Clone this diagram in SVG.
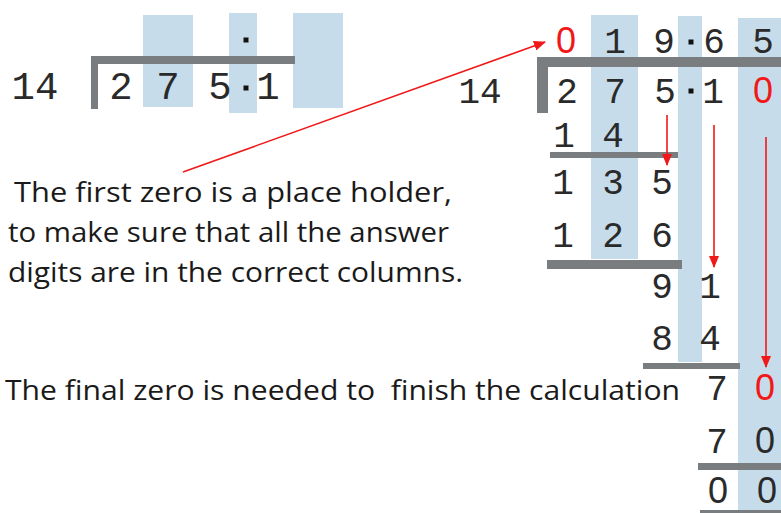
<svg xmlns="http://www.w3.org/2000/svg" width="781" height="513" viewBox="0 0 781 513">
<style>
.col{fill:#c6dcea}
.bar{fill:#797d80}
.d{font-family:"Liberation Mono",monospace;fill:#2a2a2a;text-anchor:middle}
.z{font-family:"Liberation Sans",sans-serif}
.dl{font-size:39px}
.dr{font-size:36px}
.red{fill:#f01818}
.dot{fill:#111}
.note{font-family:"Open Sans","Noto Sans",sans-serif;font-size:27px;fill:#1a1a1a;white-space:pre}
.arr{stroke:#f01818;stroke-width:1.6;fill:none}
</style>
<defs>
<marker id="ah" viewBox="0 0 12 10" refX="11" refY="5" markerWidth="12" markerHeight="10" markerUnits="userSpaceOnUse" orient="auto">
<path d="M0,0 L12,5 L0,10 Z" fill="#f01818"/>
</marker>
</defs>
<g id="left-division">
<rect class="col" x="143" y="15" width="50" height="92"/>
<rect class="col" x="229" y="13" width="28" height="100"/>
<rect class="col" x="293" y="13" width="50" height="95"/>
<rect class="bar" x="91" y="56" width="204" height="8"/>
<rect class="bar" x="91" y="56" width="7" height="53"/>
<rect class="dot" x="243.5" y="37.5" width="5" height="5"/>
<rect class="dot" x="243.5" y="85.5" width="5" height="5"/>
<text class="d dl" x="35" y="99">14</text>
<text class="d dl" x="121" y="99">2</text>
<text class="d dl" x="168" y="99">7</text>
<text class="d dl" x="220" y="99">5</text>
<text class="d dl" x="268" y="99">1</text>
</g>
<g id="right-division">
<rect class="col" x="591" y="15" width="47" height="244"/>
<rect class="col" x="678" y="16" width="24" height="346"/>
<rect class="col" x="738" y="18" width="43" height="495"/>
<rect class="bar" x="537" y="57" width="244" height="10"/>
<rect class="bar" x="537" y="57" width="11" height="56"/>
<rect class="bar" x="550" y="152" width="128" height="6"/>
<rect class="bar" x="547" y="260" width="135" height="9"/>
<rect class="bar" x="643" y="363" width="97" height="6"/>
<rect class="bar" x="698" y="463" width="83" height="7"/>
<rect class="bar" x="700" y="510" width="81" height="3"/>
<rect class="dot" x="688.5" y="39.5" width="5" height="5"/>
<rect class="dot" x="688.5" y="88.5" width="5" height="5"/>
<text class="d dr z red" x="566" y="53">0</text>
<text class="d dr" x="615" y="53">1</text>
<text class="d dr" x="664" y="53">9</text>
<text class="d dr" x="714" y="53">6</text>
<text class="d dr" x="763" y="53">5</text>
<text class="d dr" x="480" y="103">14</text>
<text class="d dr" x="567" y="103">2</text>
<text class="d dr" x="615" y="103">7</text>
<text class="d dr" x="665" y="103">5</text>
<text class="d dr" x="713" y="103">1</text>
<text class="d dr z red" x="763" y="103">0</text>
<text class="d dr" x="564" y="147">1</text>
<text class="d dr" x="613" y="147">4</text>
<text class="d dr" x="563" y="194">1</text>
<text class="d dr" x="613" y="194">3</text>
<text class="d dr" x="662" y="194">5</text>
<text class="d dr" x="563" y="247">1</text>
<text class="d dr" x="613" y="247">2</text>
<text class="d dr" x="662" y="247">6</text>
<text class="d dr" x="662" y="298">9</text>
<text class="d dr" x="710" y="298">1</text>
<text class="d dr" x="662" y="350">8</text>
<text class="d dr" x="710" y="350">4</text>
<text class="d dr" x="717" y="400">7</text>
<text class="d dr z red" x="765" y="400">0</text>
<text class="d dr" x="717" y="453">7</text>
<text class="d dr z" x="765" y="453">0</text>
<text class="d dr z" x="718" y="503">0</text>
<text class="d dr z" x="767" y="503">0</text>
</g>
<g id="connectors">
<line class="arr" x1="183" y1="172" x2="545" y2="42" marker-end="url(#ah)"/>
<line class="arr" x1="667" y1="115" x2="667" y2="165" marker-end="url(#ah)"/>
<line class="arr" x1="714" y1="125" x2="714" y2="267" marker-end="url(#ah)"/>
<line class="arr" x1="766" y1="137" x2="766" y2="367" marker-end="url(#ah)"/>
</g>
<g id="notes">
<text class="note" x="14" y="202" textLength="438" lengthAdjust="spacingAndGlyphs">The first zero is a place holder,</text>
<text class="note" x="8" y="242" textLength="441" lengthAdjust="spacingAndGlyphs">to make sure that all the answer</text>
<text class="note" x="8" y="282" textLength="455" lengthAdjust="spacingAndGlyphs">digits are in the correct columns.</text>
<text class="note" x="5" y="400" textLength="675" lengthAdjust="spacingAndGlyphs" xml:space="preserve">The final zero is needed to  finish the calculation</text>
</g>
</svg>
